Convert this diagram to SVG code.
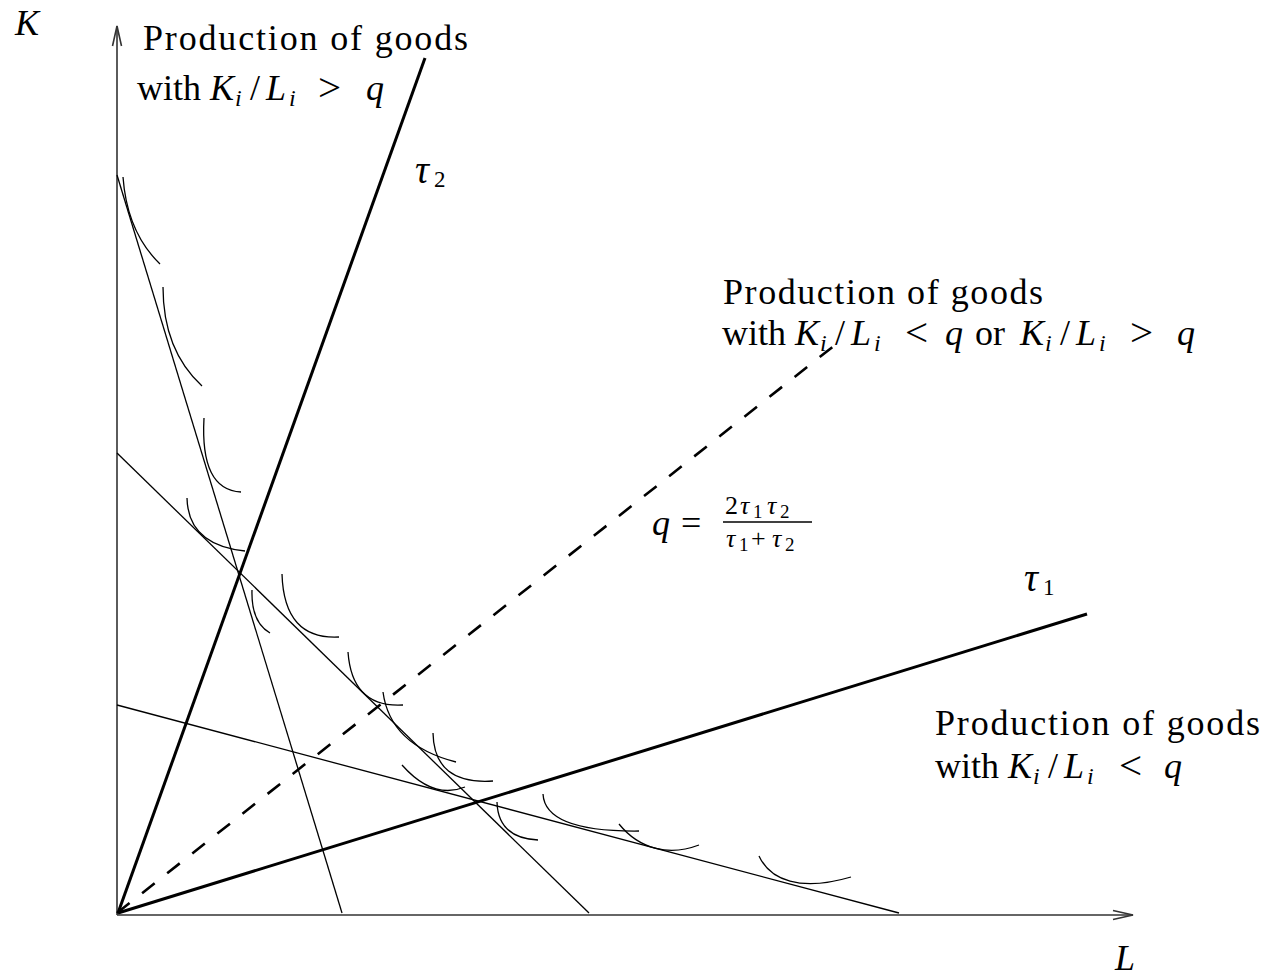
<svg xmlns="http://www.w3.org/2000/svg" width="1265" height="978" viewBox="0 0 1265 978">
<style>
.ax{stroke:#333;stroke-width:1.6;fill:none}
.thick{stroke:#000;stroke-width:3;fill:none}
.thin{stroke:#000;stroke-width:1.3;fill:none}
.dash{stroke:#000;stroke-width:2.6;stroke-dasharray:16 16;fill:none}
text{font-family:"Liberation Serif",serif;fill:#000}
.t{font-size:36px}
.g{font-size:39px;font-style:italic}
.i{font-style:italic}
.s{font-size:24px;font-style:italic}
.r{font-size:41px}
.n{font-size:23px}
.f{font-size:26px}
.fs{font-size:19px}
</style>
<rect width="1265" height="978" fill="#fff"/>
<g id="axes">
<line class="ax" x1="117" y1="915" x2="117" y2="26"/>
<path class="ax" d="M112.5,46 L117,26 L121.5,46"/>
<line class="ax" x1="117" y1="915" x2="1133" y2="915"/>
<path class="ax" d="M1113,910.5 L1133,915 L1113,919.5"/>
</g>
<g id="connectors">
<line id="tau2" class="thick" x1="118" y1="913" x2="425" y2="58"/>
<line id="tau1" class="thick" x1="118" y1="913" x2="1087" y2="614"/>
<line id="qline" class="dash" x1="117" y1="913" x2="835" y2="345"/>
<line class="thin" x1="117" y1="175" x2="342" y2="913"/>
<line class="thin" x1="117" y1="453" x2="589" y2="913"/>
<line class="thin" x1="117" y1="705" x2="899" y2="913"/>
</g>
<g id="curves">
<path class="thin" d="M123,177 Q127,232 160,264"/>
<path class="thin" d="M163,287 Q163,350 202,386"/>
<path class="thin" d="M204,418 Q200,490 241,492"/>
<path class="thin" d="M187,498 Q188,545 245,551"/>
<path class="thin" d="M252,590 Q251,622 270,633"/>
<path class="thin" d="M282,574 Q284,640 339,637"/>
<path class="thin" d="M348,652 Q352,708 403,705"/>
<path class="thin" d="M383,692 Q390,745 456,762"/>
<path class="thin" d="M433,733 Q434,785 493,781"/>
<path class="thin" d="M402,765 Q433,800 465,787"/>
<path class="thin" d="M497,802 Q498,838 538,840"/>
<path class="thin" d="M543,794 Q545,832 639,831"/>
<path class="thin" d="M619,824 C640,850 670,856 699,845"/>
<path class="thin" d="M759,856 C770,880 800,892 851,877"/>
</g>
<g id="label-K"><text class="t i" x="15" y="35">K</text></g>
<g id="label-L"><text class="t i" x="1115" y="970">L</text></g>
<g id="label-tau2"><text class="g" x="415" y="183">τ</text><text class="n" x="434" y="187">2</text></g>
<g id="label-tau1"><text class="g" x="1024" y="591">τ</text><text class="n" x="1043" y="595">1</text></g>
<g id="label-upper">
<text class="t" x="143" y="50" textLength="325">Production of goods</text>
<text class="t" y="100"><tspan x="137">with</tspan><tspan x="210" class="i">K</tspan><tspan x="235" y="106" class="s">i</tspan><tspan x="250" y="100">/</tspan><tspan x="266" class="i">L</tspan><tspan x="289" y="106" class="s">i</tspan><tspan x="318" y="101" class="r">&gt;</tspan><tspan x="366" y="100" class="i">q</tspan></text>
</g>
<g id="label-middle">
<text class="t" x="723" y="304" textLength="320">Production of goods</text>
<text class="t" y="345"><tspan x="722">with</tspan><tspan x="795" class="i">K</tspan><tspan x="820" y="351" class="s">i</tspan><tspan x="835" y="345">/</tspan><tspan x="851" class="i">L</tspan><tspan x="874" y="351" class="s">i</tspan><tspan x="905" y="346" class="r">&lt;</tspan><tspan x="945" y="345" class="i">q</tspan><tspan x="975">or</tspan><tspan x="1020" class="i">K</tspan><tspan x="1045" y="351" class="s">i</tspan><tspan x="1060" y="345">/</tspan><tspan x="1076" class="i">L</tspan><tspan x="1099" y="351" class="s">i</tspan><tspan x="1130" y="346" class="r">&gt;</tspan><tspan x="1177" y="345" class="i">q</tspan></text>
</g>
<g id="label-lower">
<text class="t" x="935" y="735" textLength="325">Production of goods</text>
<text class="t" y="778"><tspan x="935">with</tspan><tspan x="1008" class="i">K</tspan><tspan x="1033" y="784" class="s">i</tspan><tspan x="1048" y="778">/</tspan><tspan x="1064" class="i">L</tspan><tspan x="1087" y="784" class="s">i</tspan><tspan x="1119" y="779" class="r">&lt;</tspan><tspan x="1164" y="778" class="i">q</tspan></text>
</g>
<g id="label-q">
<text class="t" y="535"><tspan x="652" class="i">q</tspan><tspan x="681">=</tspan></text>
<text class="f" y="514"><tspan x="725">2</tspan><tspan x="740" class="i">τ</tspan><tspan x="753" y="518" class="fs">1</tspan><tspan x="767" y="514" class="i">τ</tspan><tspan x="780" y="518" class="fs">2</tspan></text>
<line class="thin" x1="723" y1="522" x2="812" y2="522"/>
<text class="f" y="547"><tspan x="726" class="i">τ</tspan><tspan x="739" y="551" class="fs">1</tspan><tspan x="751" y="547">+</tspan><tspan x="772" class="i">τ</tspan><tspan x="785" y="551" class="fs">2</tspan></text>
</g>
</svg>
